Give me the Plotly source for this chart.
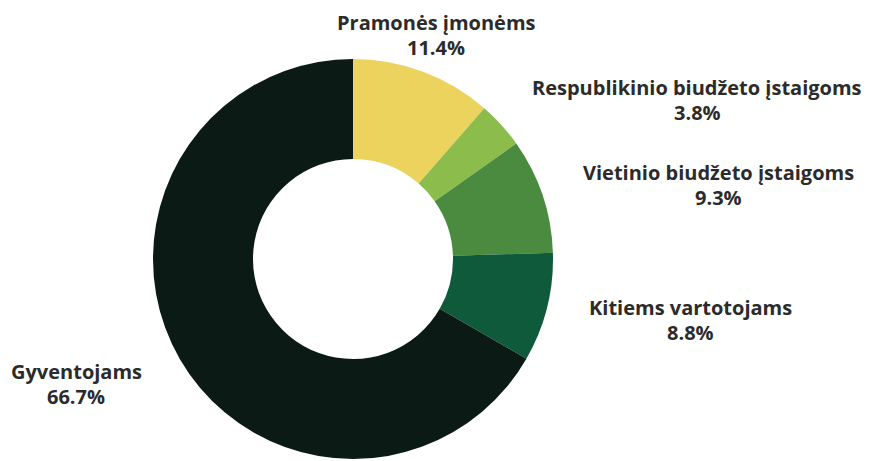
import plotly.graph_objects as go

# duomenys
labels = ["Pramonės įmonėms", "Respublikinio biudžeto įstaigoms",
          "Vietinio biudžeto įstaigoms", "Kitiems vartotojams", "Gyventojams"]
values = [11.4, 3.8, 9.3, 8.8, 66.7]
colors = ["#ecd35e", "#8cbd4c", "#4a8b3f", "#0f5a3b", "#0c1a15"]

W, H = 879, 461
OFF = 8  # puslapio body paraštė

# etikečių centrai pikseliais (pavadinimas), procentai eilute žemiau
label_pos = [(436, 22), (697, 87), (718, 172), (690, 307), (76, 371)]
line_gap = 25

fig = go.Figure()
fig.add_trace(go.Pie(
    labels=labels,
    values=values,
    marker=dict(colors=colors, line=dict(width=0)),
    hole=0.5,
    sort=False,
    direction="clockwise",
    rotation=0,
    textinfo="none",
    hoverinfo="label+percent",
    showlegend=False,
    domain=dict(x=[(153 - OFF) / W, (553 - OFF) / W],
                y=[1 - (459 - OFF) / H, 1 - (59 - OFF) / H]),
))

font = dict(family="Open Sans", size=20, color="#2b2b2b", weight=700)
for lab, val, (px, py) in zip(labels, values, label_pos):
    fig.add_annotation(x=(px - OFF) / W, y=1 - (py - OFF) / H, xref="paper", yref="paper",
                       text=lab, showarrow=False, font=font,
                       xanchor="center", yanchor="middle")
    fig.add_annotation(x=(px - OFF) / W, y=1 - (py + line_gap - OFF) / H, xref="paper", yref="paper",
                       text="%.1f%%" % val, showarrow=False, font=font,
                       xanchor="center", yanchor="middle")

fig.update_layout(
    width=W, height=H,
    margin=dict(l=0, r=0, t=0, b=0),
    paper_bgcolor="white",
    plot_bgcolor="white",
)

fig.write_html("out.html")
